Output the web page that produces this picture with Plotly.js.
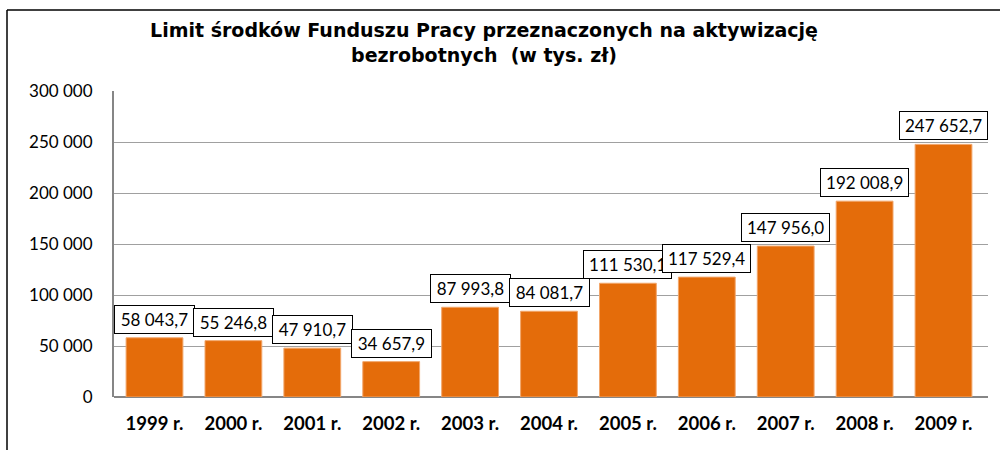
<!DOCTYPE html>
<html>
<head>
<meta charset="utf-8">
<script src="https://cdn.plot.ly/plotly-3.0.1.min.js"></script>
<style>
  html, body { margin: 0; padding: 0; background: #ffffff; }
  #chart { width: 1000px; height: 450px; }
</style>
</head>
<body>
<div id="chart"></div>
<script>
const years = ["1999 r.", "2000 r.", "2001 r.", "2002 r.", "2003 r.", "2004 r.", "2005 r.", "2006 r.", "2007 r.", "2008 r.", "2009 r."];
const limitValues = [58043.7, 55246.8, 47910.7, 34657.9, 87993.8, 84081.7, 111530.1, 117529.4, 147956.0, 192008.9, 247652.7];
const yTickValues = [0, 50000, 100000, 150000, 200000, 250000, 300000];
const yTickLabels = ["0", "50 000", "100 000", "150 000", "200 000", "250 000", "300 000"];
const chartTitle = "Limit środków Funduszu Pracy przeznaczonych na aktywizację<br>bezrobotnych  (w tys. zł)";

function formatPL(v) {
  const parts = v.toFixed(1).split(".");
  const intPart = parts[0].replace(/\B(?=(\d{3})+(?!\d))/g, " ");
  return intPart + "," + parts[1];
}

const trace = {
  type: "bar",
  x: years,
  y: limitValues,
  marker: { color: "#E46C0A", line: { color: "#F2A66A", width: 1 } },
  hoverinfo: "x+y"
};

const annotations = years.map((yr, i) => ({
  x: yr,
  y: limitValues[i],
  xref: "x",
  yref: "y",
  text: formatPL(limitValues[i]),
  showarrow: false,
  yanchor: "bottom",
  yshift: 4,
  bgcolor: "#ffffff",
  bordercolor: "#000000",
  borderwidth: 1,
  borderpad: 3,
  width: formatPL(limitValues[i]).length * 8.6 + 4,
  font: { family: "Lato, 'Open Sans', sans-serif", size: 17, color: "#000000" }
}));

const layout = {
  width: 1000,
  height: 450,
  margin: { l: 114, r: 12, t: 91, b: 53 },
  paper_bgcolor: "#ffffff",
  plot_bgcolor: "#ffffff",
  showlegend: false,
  bargap: 0.28,
  title: {
    text: chartTitle,
    x: 0.484,
    xanchor: "center",
    xref: "container",
    y: 1 - 37 / 450,
    yref: "container",
    yanchor: "middle",
    font: { family: "'DejaVu Sans', sans-serif", size: 19, color: "#000000", weight: 700 }
  },
  xaxis: {
    type: "category",
    showgrid: false,
    showline: false,
    ticks: "",
    ticklabelstandoff: 13,
    tickfont: { family: "Lato, sans-serif", size: 18.5, color: "#000000", weight: 700 },
    fixedrange: true
  },
  yaxis: {
    range: [0, 300000],
    tickvals: yTickValues,
    ticktext: yTickLabels,
    showgrid: true,
    gridcolor: "#A0A0A0",
    gridwidth: 1.3,
    showline: true,
    linecolor: "#868686",
    linewidth: 2,
    zeroline: true,
    zerolinecolor: "#868686",
    zerolinewidth: 2.2,
    ticks: "",
    ticklabelstandoff: 16,
    tickfont: { family: "Lato, sans-serif", size: 17, color: "#000000" },
    fixedrange: true
  },
  annotations: annotations,
  shapes: [
    { type: "line", xref: "paper", yref: "paper", x0: (7 - 114) / 874, x1: (1000 - 114) / 874, y0: (397 - 10) / 306, y1: (397 - 10) / 306, line: { color: "#000000", width: 1.5 } },
    { type: "line", xref: "paper", yref: "paper", x0: (7 - 114) / 874, x1: (7 - 114) / 874, y0: (397 - 10) / 306, y1: (397 - 452) / 306, line: { color: "#000000", width: 1.5 } }
  ]
};

Plotly.newPlot("chart", [trace], layout, { displayModeBar: false, responsive: false });
</script>
</body>
</html>
